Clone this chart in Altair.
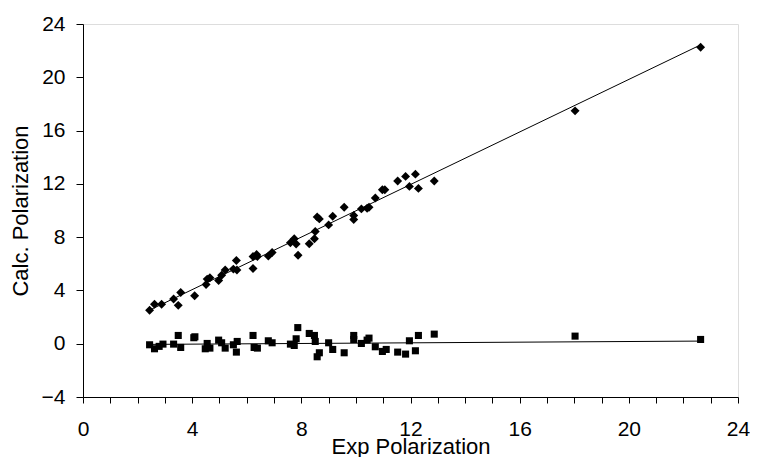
import altair as alt
import pandas as pd

# Calc. polarization (diamonds) vs experimental polarization
x_diamond = [2.44, 2.62, 2.88, 3.32, 3.49, 3.58, 4.09, 4.51, 4.55, 4.65, 4.97, 5.08, 5.21,
             5.51, 5.62, 5.64, 6.23, 6.23, 6.36, 6.39, 6.79, 6.93, 7.60, 7.74, 7.81, 7.88,
             8.29, 8.48, 8.51, 8.58, 8.66, 9.00, 9.15, 9.57, 9.92, 9.92, 10.20, 10.41, 10.48,
             10.71, 10.97, 11.06, 11.53, 11.82, 11.96, 12.18, 12.29, 12.87, 18.03, 22.63]
y_diamond = [2.51, 2.96, 2.96, 3.35, 2.88, 3.85, 3.60, 4.45, 4.85, 4.95, 4.75, 5.14, 5.54,
             5.60, 6.24, 5.54, 5.64, 6.54, 6.69, 6.54, 6.59, 6.84, 7.58, 7.88, 7.48, 6.64,
             7.51, 7.88, 8.43, 9.52, 9.37, 8.92, 9.57, 10.24, 9.62, 9.32, 10.12, 10.17, 10.24,
             10.94, 11.56, 11.56, 12.21, 12.56, 11.81, 12.73, 11.66, 12.21, 17.48, 22.26]

# Residual-type series (squares)
x_square = [2.44, 2.62, 2.79, 2.93, 3.32, 3.49, 3.58, 4.06, 4.10, 4.48, 4.55, 4.65, 4.97,
            5.08, 5.21, 5.51, 5.62, 5.65, 6.23, 6.27, 6.39, 6.79, 6.93, 7.60, 7.74, 7.81,
            7.87, 8.29, 8.48, 8.51, 8.58, 8.66, 9.00, 9.15, 9.57, 9.92, 9.92, 10.20, 10.41,
            10.48, 10.71, 10.97, 11.11, 11.53, 11.82, 11.96, 12.18, 12.29, 12.87, 18.03, 22.63]
y_square = [-0.08, -0.38, -0.20, -0.03, -0.03, 0.62, -0.28, 0.45, 0.52, -0.38, 0.02, -0.33, 0.27,
            0.07, -0.33, -0.08, -0.63, 0.17, 0.62, -0.28, -0.33, 0.22, 0.07, -0.03, -0.13, 0.37,
            1.21, 0.77, 0.62, 0.17, -0.98, -0.68, 0.07, -0.43, -0.68, 0.62, 0.32, 0.02, 0.27,
            0.42, -0.23, -0.58, -0.43, -0.63, -0.78, 0.22, -0.53, 0.62, 0.72, 0.57, 0.32]

x_ticks = list(range(0, 25, 1))
y_ticks = list(range(-4, 25, 4))

df_d = pd.DataFrame({"x": x_diamond, "y": y_diamond})
df_s = pd.DataFrame({"x": x_square, "y": y_square})

FONT = "Liberation Sans"

xscale = alt.Scale(domain=[0, 24], nice=False, zero=False)
yscale = alt.Scale(domain=[-4, 24], nice=False, zero=False)

xaxis = alt.Axis(values=x_ticks, labelExpr="datum.value % 4 === 0 ? datum.label : ''",
                 grid=False, tickSize=6,
                 tickColor="black", domainColor="black",
                 labelFont=FONT, labelFontSize=21, labelColor="black",
                 labelPadding=15, labelOverlap=False,
                 titleFont=FONT, titleFontSize=22, titleFontWeight="normal",
                 titleColor="black", titlePadding=-3, labelFlush=False)
yaxis = alt.Axis(values=y_ticks, grid=False, tickSize=7, tickColor="black",
                 domainColor="black", labelFont=FONT, labelFontSize=21,
                 labelColor="black", labelPadding=11, labelOverlap=False,
                 titleFont=FONT,
                 titleFontSize=22, titleFontWeight="normal", titleColor="black",
                 titleBaseline="alphabetic", titleX=-56, titleY=186.5)

X = alt.X("x:Q", scale=xscale, axis=xaxis, title="Exp Polarization")
Y = alt.Y("y:Q", scale=yscale, axis=yaxis, title="Calc. Polarization")

diam = alt.Chart(df_d).mark_point(shape="diamond", filled=True, color="black",
                                  size=80, opacity=1).encode(x=X, y=Y)
sq = alt.Chart(df_s).mark_point(shape="square", filled=True, color="black",
                                size=50, opacity=1).encode(x=X, y=Y)

line_d = alt.Chart(df_d).transform_regression("x", "y").mark_line(
    color="black", strokeWidth=1).encode(x=X, y=Y)
line_s = alt.Chart(df_s).transform_regression("x", "y").mark_line(
    color="black", strokeWidth=1).encode(x=X, y=Y)

chart = alt.layer(line_d, line_s, diam, sq).properties(
    width=655, height=373,
    autosize=alt.AutoSizeParams(type="none"),
    padding={"left": 75, "top": 16, "right": 12, "bottom": 60},
).configure_view(stroke=None).configure(background="white")

chart.save("out.html", embed_options={"renderer": "svg", "actions": False})
